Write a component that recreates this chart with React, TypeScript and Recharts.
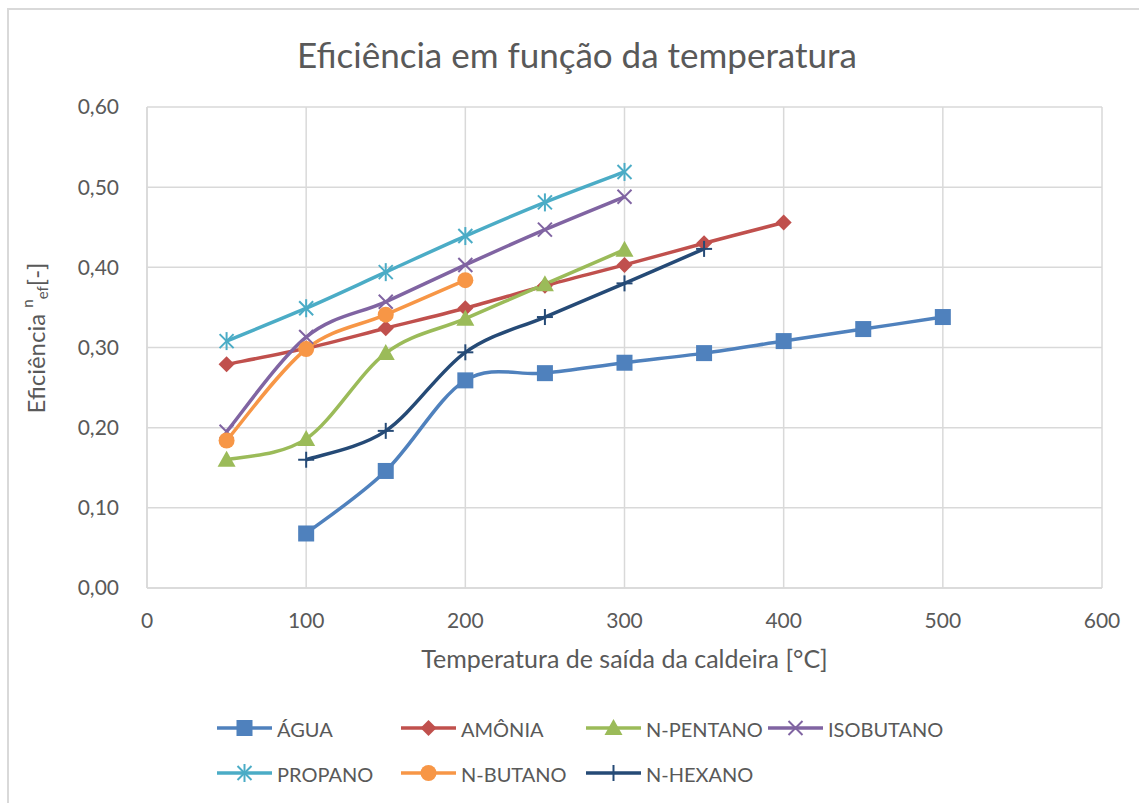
import React from "react";
import { LineChart, Line, XAxis, YAxis, CartesianGrid, Label } from "recharts";

// ---------- data ----------
const xTicks = [0, 100, 200, 300, 400, 500, 600];
const yTicks = [0, 0.1, 0.2, 0.3, 0.4, 0.5, 0.6];

const aguaT = [100, 150, 200, 250, 300, 350, 400, 450, 500];
const aguaEf = [0.068, 0.146, 0.259, 0.268, 0.281, 0.293, 0.308, 0.323, 0.338];

const amoniaT = [50, 100, 150, 200, 250, 300, 350, 400];
const amoniaEf = [0.279, 0.299, 0.324, 0.349, 0.377, 0.403, 0.430, 0.456];

const pentanoT = [50, 100, 150, 200, 250, 300];
const pentanoEf = [0.160, 0.186, 0.293, 0.336, 0.379, 0.422];

const isobutanoT = [50, 100, 150, 200, 250, 300];
const isobutanoEf = [0.195, 0.313, 0.357, 0.403, 0.447, 0.488];

const propanoT = [50, 100, 150, 200, 250, 300];
const propanoEf = [0.308, 0.349, 0.394, 0.439, 0.481, 0.519];

const butanoT = [50, 100, 150, 200];
const butanoEf = [0.184, 0.298, 0.341, 0.384];

const hexanoT = [100, 150, 200, 250, 300, 350];
const hexanoEf = [0.160, 0.196, 0.294, 0.338, 0.380, 0.423];

const seriesNames = ["ÁGUA", "AMÔNIA", "N-PENTANO", "ISOBUTANO", "PROPANO", "N-BUTANO", "N-HEXANO"];
const seriesColors = ["#4F81BD", "#C0504D", "#9BBB59", "#8064A2", "#4BACC6", "#F79646", "#254A76"];
const seriesMarkers = ["square", "diamond", "triangle", "x", "star", "circle", "plus"];
const seriesT = [aguaT, amoniaT, pentanoT, isobutanoT, propanoT, butanoT, hexanoT];
const seriesEf = [aguaEf, amoniaEf, pentanoEf, isobutanoEf, propanoEf, butanoEf, hexanoEf];

const series = seriesNames.map((name, i) => ({
  name,
  color: seriesColors[i],
  marker: seriesMarkers[i],
  data: seriesT[i].map((t, j) => ({ t, ef: seriesEf[i][j] })),
}));

const FONT = "Lato, 'Noto Sans', sans-serif";
const TEXT = "#595959";

// Excel-like smoothing (Catmull-Rom, 1/6 tangents)
function excelCurve(context: any) {
  let pts: number[][] = [];
  return {
    areaStart() {},
    areaEnd() {},
    lineStart() {
      pts = [];
    },
    lineEnd() {
      const n = pts.length;
      if (!n) return;
      context.moveTo(pts[0][0], pts[0][1]);
      for (let i = 0; i < n - 1; i++) {
        const p0 = pts[i - 1] || pts[i];
        const p1 = pts[i];
        const p2 = pts[i + 1];
        const p3 = pts[i + 2] || pts[i + 1];
        context.bezierCurveTo(
          p1[0] + (p2[0] - p0[0]) / 6,
          p1[1] + (p2[1] - p0[1]) / 6,
          p2[0] - (p3[0] - p1[0]) / 6,
          p2[1] - (p3[1] - p1[1]) / 6,
          p2[0],
          p2[1]
        );
      }
    },
    point(x: number, y: number) {
      pts.push([+x, +y]);
    },
  };
}

function Marker({ kind, cx, cy, color }: { kind: string; cx: number; cy: number; color: string }) {
  if (cx == null || cy == null || isNaN(cx) || isNaN(cy)) return null;
  switch (kind) {
    case "square":
      return <rect x={cx - 8} y={cy - 8} width={16} height={16} fill={color} />;
    case "diamond":
      return (
        <polygon
          points={`${cx},${cy - 8} ${cx + 8},${cy} ${cx},${cy + 8} ${cx - 8},${cy}`}
          fill={color}
        />
      );
    case "triangle":
      return (
        <polygon points={`${cx},${cy - 9} ${cx + 9},${cy + 7} ${cx - 9},${cy + 7}`} fill={color} />
      );
    case "circle":
      return <circle cx={cx} cy={cy} r={8} fill={color} />;
    case "x":
      return (
        <g stroke={color} strokeWidth={2}>
          <line x1={cx - 7} y1={cy - 7} x2={cx + 7} y2={cy + 7} />
          <line x1={cx - 7} y1={cy + 7} x2={cx + 7} y2={cy - 7} />
        </g>
      );
    case "star":
      return (
        <g stroke={color} strokeWidth={2}>
          <line x1={cx - 7} y1={cy - 7} x2={cx + 7} y2={cy + 7} />
          <line x1={cx - 7} y1={cy + 7} x2={cx + 7} y2={cy - 7} />
          <line x1={cx} y1={cy - 9} x2={cx} y2={cy + 9} />
        </g>
      );
    case "plus":
      return (
        <g stroke={color} strokeWidth={2}>
          <line x1={cx - 8} y1={cy} x2={cx + 8} y2={cy} />
          <line x1={cx} y1={cy - 8} x2={cx} y2={cy + 8} />
        </g>
      );
    default:
      return null;
  }
}

const fmtY = (v: number) => v.toFixed(2).replace(".", ",");

function YLabel(props: any) {
  const x = 35;
  const y = 338;
  return (
    <text
      x={x}
      y={y}
      transform={`rotate(-90 ${x} ${y})`}
      textAnchor="middle"
      dominantBaseline="central"
      fontFamily={FONT}
      fontSize={24}
      fill={TEXT}
    >
      Eficiência{" "}
      <tspan fontSize={15} dy={-8}>
        n
      </tspan>
      <tspan fontSize={15} dy={15}>
        ef
      </tspan>
      <tspan dy={-7}>[-]</tspan>
    </text>
  );
}

function LegendBlock() {
  const cols = [217, 401, 586, 768];
  const rows = [728, 773];
  return (
    <svg
      width={1139}
      height={803}
      style={{ position: "absolute", left: 0, top: 0, pointerEvents: "none" }}
    >
      {series.map((s, i) => {
        const cx = cols[i % 4];
        const cy = rows[Math.floor(i / 4)];
        return (
          <g key={s.name}>
            <line x1={cx} y1={cy} x2={cx + 55} y2={cy} stroke={s.color} strokeWidth={3.5} />
            <Marker kind={s.marker} cx={cx + 27.5} cy={cy} color={s.color} />
            <text
              x={cx + 60}
              y={cy + 1}
              dominantBaseline="central"
              fontFamily={FONT}
              fontSize={20}
              fill={TEXT}
            >
              {s.name}
            </text>
          </g>
        );
      })}
    </svg>
  );
}

export default function App() {
  return (
    <div
      style={{
        position: "absolute",
        left: 0,
        top: 0,
        width: 1139,
        height: 803,
        background: "#fff",
        overflow: "hidden",
        fontFamily: FONT,
      }}
    >
      <div
        style={{
          position: "absolute",
          left: 7,
          top: 8,
          width: 1160,
          height: 820,
          border: "2px solid #d9d9d9",
          boxSizing: "border-box",
        }}
      />
      <div
        style={{
          position: "absolute",
          left: 0,
          width: 1154,
          top: 33,
          textAlign: "center",
          fontSize: 35,
          color: TEXT,
          fontFamily: FONT,
        }}
      >
        Eficiência em função da temperatura
      </div>
      <div style={{ position: "absolute", left: 0, top: 0 }}>
        <LineChart
          width={1139}
          height={803}
          margin={{ top: 107, right: 37, bottom: 155, left: 0 }}
        >
          <CartesianGrid stroke="#d9d9d9" strokeWidth={1.5} />
          <XAxis
            type="number"
            dataKey="t"
            domain={[0, 600]}
            ticks={xTicks}
            height={60}
            axisLine={{ stroke: "#d9d9d9", strokeWidth: 1.5 }}
            tickLine={false}
            tick={{ fill: TEXT, fontSize: 21, fontFamily: FONT }}
            tickMargin={19}
            allowDuplicatedCategory={false}
          >
            <Label
              value="Temperatura de saída da caldeira [°C]"
              position="insideBottom"
              offset={-20}
              style={{ fill: TEXT, fontSize: 25, fontFamily: FONT }}
            />
          </XAxis>
          <YAxis
            type="number"
            dataKey="ef"
            domain={[0, 0.6]}
            ticks={yTicks}
            width={147}
            axisLine={{ stroke: "#d9d9d9", strokeWidth: 1.5 }}
            tickLine={false}
            tickFormatter={fmtY}
            tick={{ fill: TEXT, fontSize: 21, fontFamily: FONT }}
            tickMargin={22}
          >
            <Label content={<YLabel />} />
          </YAxis>
          {series.map((s) => (
            <Line
              key={s.name}
              data={s.data}
              dataKey="ef"
              name={s.name}
              type={excelCurve as any}
              stroke={s.color}
              strokeWidth={3.5}
              isAnimationActive={false}
              dot={(p: any) => (
                <Marker key={`${s.name}-${p.index}`} kind={s.marker} cx={p.cx} cy={p.cy} color={s.color} />
              )}
              activeDot={false}
            />
          ))}
        </LineChart>
      </div>
      <LegendBlock />
    </div>
  );
}
